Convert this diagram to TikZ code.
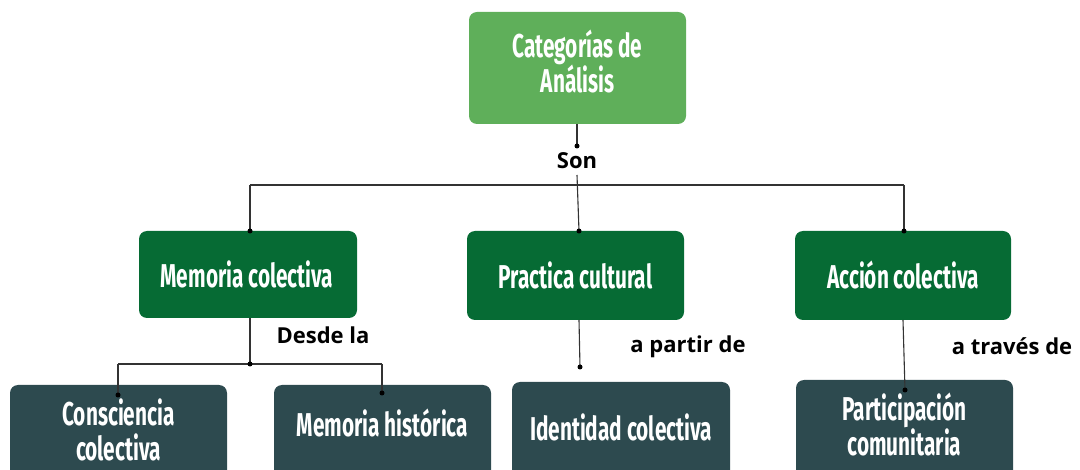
\documentclass[tikz,border=0pt]{standalone}
\usepackage{fontspec}
\setmainfont{Open Sans}
\newfontfamily\cond[FakeStretch=0.63]{Fira Sans}
\newfontfamily\lab{Open Sans}
\definecolor{lightg}{HTML}{5FAF5A}
\definecolor{darkg}{HTML}{066B34}
\definecolor{slate}{HTML}{2D4A4F}
\definecolor{ln}{HTML}{333333}
\begin{document}
\begin{tikzpicture}[x=1pt,y=-1pt,
  box/.style={rounded corners=8pt},
  topbox/.style={box,fill=lightg},
  midbox/.style={box,fill=darkg},
  lowbox/.style={box,fill=slate},
  btxt/.style={text=white,align=center,inner sep=0pt,font=\cond\bfseries\fontsize{33}{35}\selectfont},
  conn/.style={draw=ln,line width=1.1pt},
  dotc/.style={circle,fill=black,inner sep=0pt,minimum size=5pt},
  lbl/.style={font=\lab\bfseries\fontsize{22}{24}\selectfont,text=black,inner sep=0pt}]
\useasboundingbox (0,0) rectangle (1080,470);
\path[topbox] (469,12) rectangle (686,124);
\node[btxt] (top) at (577.5,62) {Categorías de\\Análisis};
\coordinate (topb) at (577,124);
% mid boxes
\path[midbox] (139,231) rectangle (357,318);
\node[btxt] (mc) at (247,274) {Memoria colectiva};
\path[midbox] (467,231) rectangle (684,320);
\node[btxt] (pc) at (575.5,275) {Practica cultural};
\path[midbox] (795,231) rectangle (1011,320);
\node[btxt] (ac) at (903,275) {Acción colectiva};
% low boxes
\path[lowbox] (10,385) rectangle (227,480);
\node[btxt] (cc) at (118.5,430) {Consciencia\\colectiva};
\path[lowbox] (274,385) rectangle (491,480);
\node[btxt] (mh) at (382.5,423) {Memoria histórica};
\path[lowbox] (512,382) rectangle (730,480);
\node[btxt] (ic) at (621,427) {Identidad colectiva};
\path[lowbox] (796,380) rectangle (1013,480);
\node[btxt] (pcom) at (904.5,425) {Participación\\comunitaria};
% labels
\node[lbl] (son) at (577,161) {Son};
\node[lbl] (desde) at (323,335) {Desde la};
\node[lbl] (apartir) at (688,347) {a partir de};
\node[lbl] (atraves) at (1012,346) {a través de};
% coordinates
\coordinate (d1) at (577,146);
\coordinate (hl) at (250,185);
\coordinate (hr) at (904,185);
\coordinate (s0) at (577,175);
\coordinate (mct) at (250,231);
\coordinate (pct) at (579,231);
\coordinate (act) at (904,231);
\coordinate (mcb) at (250,318);
\coordinate (j1) at (250,364);
\coordinate (jl) at (118,364);
\coordinate (jr) at (382,364);
\coordinate (cct) at (118,395);
\coordinate (mht) at (382,393);
\coordinate (pcb) at (579,320);
\coordinate (pce) at (580,367);
\coordinate (acb) at (903,320);
\coordinate (ace) at (905,390);
% connectors
\draw[conn] (topb) -- (d1);
\draw[conn] (hl) -- (hr);
\draw[conn] (hl) -- (mct);
\draw[conn] (hr) -- (act);
\draw[conn] (s0) -- (pct);
\draw[conn] (mcb) -- (j1);
\draw[conn] (jl) -- (jr);
\draw[conn] (jl) -- (cct);
\draw[conn] (jr) -- (mht);
\draw[conn] (pcb) -- (pce);
\draw[conn] (acb) -- (ace);
\foreach \c in {d1,mct,pct,act,j1,cct,mht,pce,ace}
  \node[dotc] at (\c) {};
\end{tikzpicture}
\end{document}
